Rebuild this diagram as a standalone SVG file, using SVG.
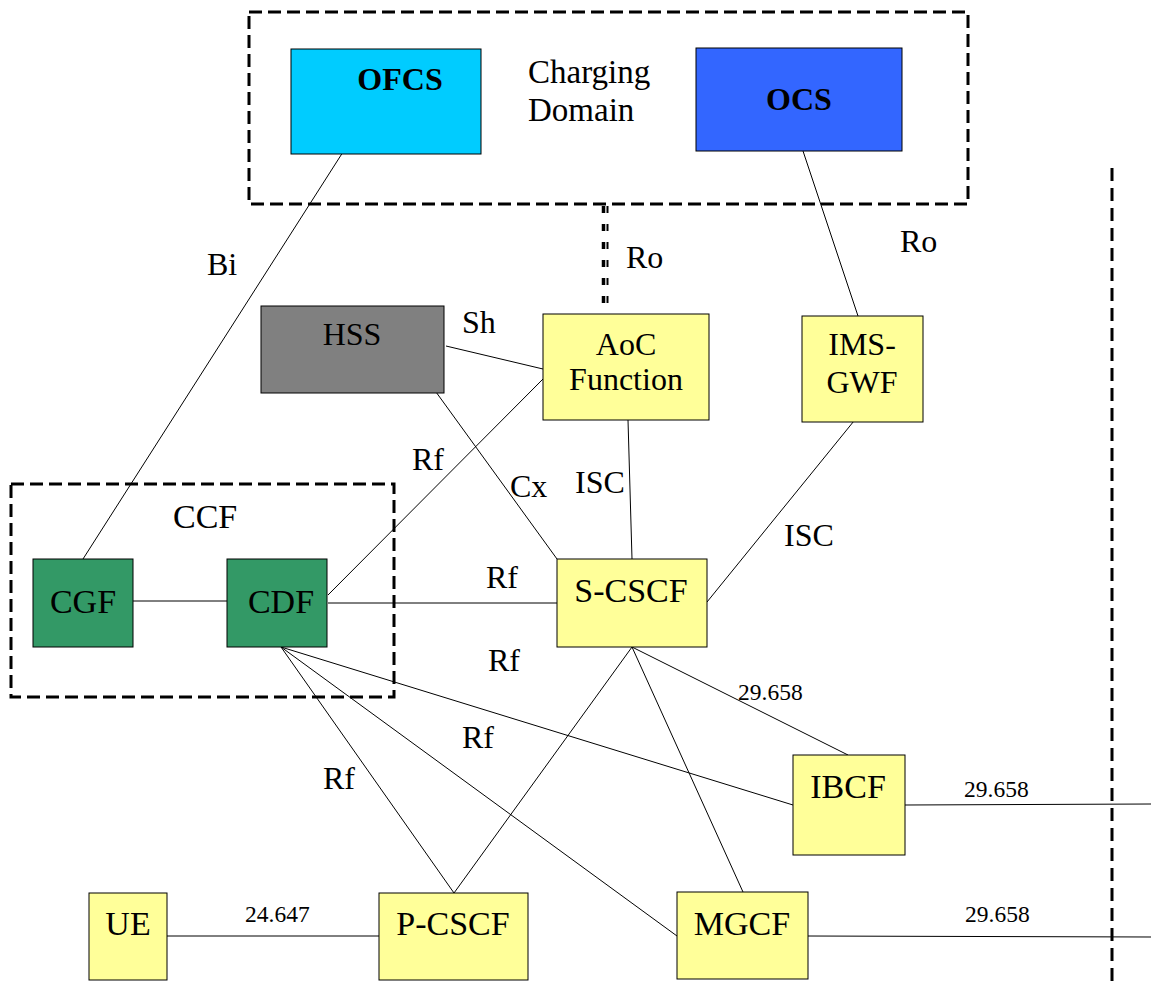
<svg xmlns="http://www.w3.org/2000/svg" width="1151" height="981" viewBox="0 0 1151 981">
<style>
text{font-family:"Liberation Serif","Times New Roman",serif;fill:#000}
.n{font-size:34px;text-anchor:middle}
.m{font-size:32px;text-anchor:middle}
.b{font-size:32px;font-weight:bold;text-anchor:middle}
.l{font-size:32px}
.s{font-size:23.5px}
.box{stroke:#000;stroke-width:1}
.y{fill:#FFFF99}
.g{fill:#339966}
.dash{fill:none;stroke:#000;stroke-width:3;stroke-dasharray:13 6}
#connectors line{stroke:#000;stroke-width:1}
</style>
<rect width="1151" height="981" fill="#fff"/>
<g id="charging-domain">
<rect class="dash" x="249" y="12" width="719" height="192"/>
<text class="l" x="528" y="83" style="font-size:33px">Charging</text>
<text class="l" x="528" y="121" style="font-size:33px">Domain</text>
</g>
<g id="ccf">
<rect class="dash" x="11" y="484" width="383" height="213"/>
<text class="l" x="173" y="528" style="font-size:34px">CCF</text>
</g>
<line x1="1112" y1="168" x2="1112" y2="981" stroke="#000" stroke-width="3" stroke-dasharray="13 7"/>
<g id="connectors">
<line x1="343" y1="152" x2="83" y2="559"/>
<line x1="803" y1="151" x2="858" y2="316"/>
<line x1="446" y1="346" x2="543" y2="369"/>
<line x1="436" y1="392" x2="557" y2="559"/>
<line x1="543" y1="379" x2="328" y2="595"/>
<line x1="628" y1="420" x2="632" y2="559"/>
<line x1="858" y1="416" x2="707" y2="602"/>
<line x1="133" y1="601" x2="227" y2="601"/>
<line x1="328" y1="603" x2="557" y2="603"/>
<line x1="281" y1="647" x2="454" y2="893"/>
<line x1="281" y1="647" x2="677" y2="936"/>
<line x1="281" y1="647" x2="793" y2="805"/>
<line x1="632" y1="647" x2="454" y2="893"/>
<line x1="632" y1="647" x2="743" y2="892"/>
<line x1="632" y1="647" x2="848" y2="755"/>
<line x1="905" y1="805" x2="1151" y2="804"/>
<line x1="808" y1="936" x2="1151" y2="937"/>
<line x1="167" y1="936" x2="379" y2="936"/>
<g id="ro-double">
<line x1="603.5" y1="206" x2="603.5" y2="314" style="stroke-width:3.5;stroke-dasharray:7 11"/>
<line x1="607.5" y1="206" x2="607.5" y2="314" style="stroke-width:2;stroke-dasharray:7 11"/>
</g>
</g>
<g id="labels">
<text class="l" x="207" y="275">Bi</text>
<text class="l" x="900" y="252">Ro</text>
<text class="l" x="626" y="268">Ro</text>
<text class="l" x="462" y="333">Sh</text>
<text class="l" x="412" y="470">Rf</text>
<text class="l" x="510" y="497">Cx</text>
<text class="l" x="575" y="493">ISC</text>
<text class="l" x="784" y="546">ISC</text>
<text class="l" x="486" y="588">Rf</text>
<text class="l" x="488" y="671">Rf</text>
<text class="l" x="462" y="748">Rf</text>
<text class="l" x="323" y="789">Rf</text>
<text class="s" x="738" y="700">29.658</text>
<text class="s" x="964" y="797">29.658</text>
<text class="s" x="965" y="922">29.658</text>
<text class="s" x="245" y="922">24.647</text>
</g>
<g id="OFCS"><rect class="box" x="291" y="49" width="190" height="105" fill="#00CCFF"/><text class="b" x="400" y="90">OFCS</text></g>
<g id="OCS"><rect class="box" x="696" y="48" width="206" height="103" fill="#3366FF"/><text class="b" x="799" y="110">OCS</text></g>
<g id="HSS"><rect class="box" x="261" y="306" width="183" height="87" fill="#808080"/><text class="m" x="352" y="345">HSS</text></g>
<g id="AoC"><rect class="box y" x="543" y="314" width="166" height="106"/><text class="m" x="626" y="355">AoC</text><text class="m" x="626" y="390">Function</text></g>
<g id="IMS-GWF"><rect class="box y" x="802" y="316" width="121" height="106"/><text class="m" x="862" y="355">IMS-</text><text class="m" x="862" y="393">GWF</text></g>
<g id="CGF"><rect class="box g" x="33" y="559" width="100" height="88"/><text class="n" x="83" y="613">CGF</text></g>
<g id="CDF"><rect class="box g" x="227" y="559" width="100" height="88"/><text class="n" x="281" y="613">CDF</text></g>
<g id="S-CSCF"><rect class="box y" x="557" y="559" width="150" height="88"/><text class="n" x="631" y="602">S-CSCF</text></g>
<g id="IBCF"><rect class="box y" x="793" y="755" width="112" height="100"/><text class="n" x="848" y="798">IBCF</text></g>
<g id="MGCF"><rect class="box y" x="677" y="892" width="131" height="87"/><text class="n" x="742" y="935">MGCF</text></g>
<g id="UE"><rect class="box y" x="89" y="893" width="78" height="87"/><text class="n" x="128" y="935">UE</text></g>
<g id="P-CSCF"><rect class="box y" x="379" y="893" width="149" height="87"/><text class="n" x="453" y="935">P-CSCF</text></g>
</svg>
